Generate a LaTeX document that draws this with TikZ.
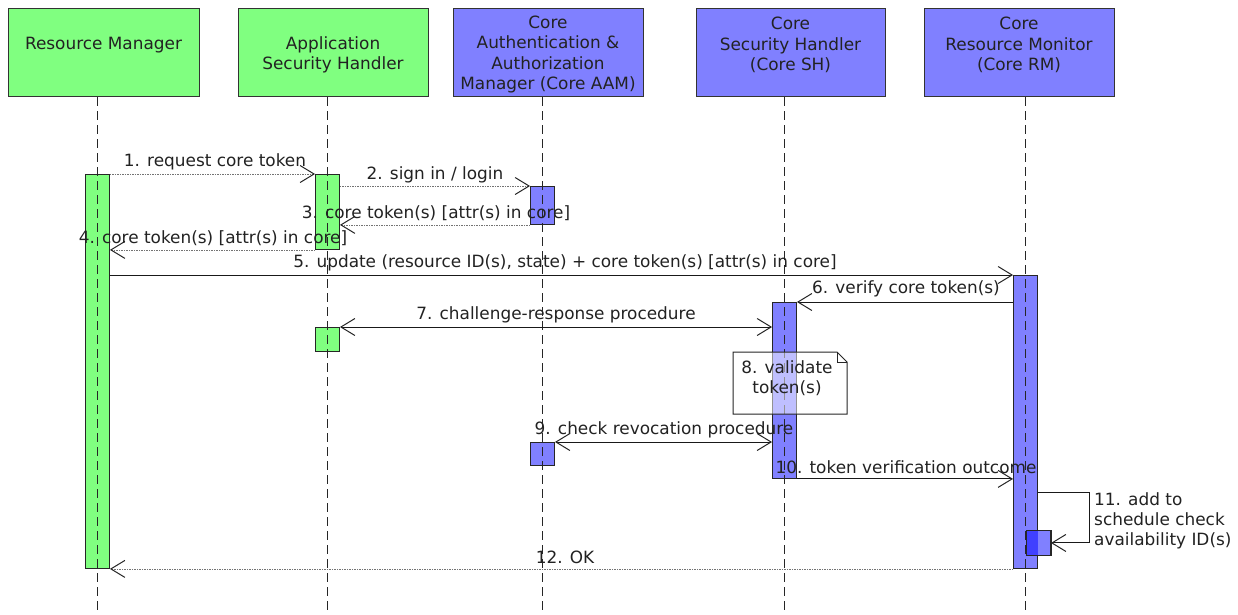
\documentclass[tikz,border=0pt]{standalone}
\usepackage{fontspec}
\setmainfont{DejaVu Sans}
\usetikzlibrary{arrows.meta}
\definecolor{grn}{HTML}{80FF80}
\definecolor{blu}{HTML}{8080FF}
\definecolor{dblu}{HTML}{4040FF}
\definecolor{ink}{HTML}{222222}
\begin{document}
\begin{tikzpicture}[x=1pt,y=-1pt,
  font=\fontsize{16.9}{20.3}\selectfont, text=ink,
  hdr/.style={draw=black!80, line width=1pt, minimum height=88pt, inner sep=0pt, anchor=north},
  htext/.style={align=center, inner sep=0pt},
  bar/.style={draw=black!85, line width=0.9pt, minimum width=24pt, inner sep=0pt, anchor=north},
  life/.style={draw=black!85, line width=1pt, dash pattern=on 9pt off 5pt},
  tip/.style={-{Straight Barb[length=14pt,width=17pt,line width=1pt,color=black!85]}},
  async/.style={tip, draw=black!55, line width=0.7pt, dash pattern=on 1.5pt off 1pt},
  sync/.style={tip, draw=black!90, line width=1pt},
  both/.style={{Straight Barb[length=14pt,width=17pt,line width=1pt,color=black!85]}-{Straight Barb[length=14pt,width=17pt,line width=1pt,color=black!85]}, draw=black!90, line width=1pt},
  lbl/.style={inner sep=0pt}
]
\useasboundingbox (0,0) rectangle (1238,614);
\fill[white] (0,0) rectangle (1238,614);

% headers
\node[hdr, fill=grn, minimum width=191pt] (rmH) at (103.5,8) {};
\node[hdr, fill=grn, minimum width=190pt] (ashH) at (333,8) {};
\node[hdr, fill=blu, minimum width=190pt] (aamH) at (548,8) {};
\node[hdr, fill=blu, minimum width=189pt] (shH) at (790.5,8) {};
\node[hdr, fill=blu, minimum width=190pt] (crmH) at (1019,8) {};
\node[htext] (rmT) at (103.5,45) {Resource Manager};
\node[htext] (ashT) at (333,55) {Application\\Security Handler};
\node[htext] (aamT) at (548,54.5) {Core\\Authentication \&\\Authorization\\Manager (Core AAM)};
\node[htext] (shT) at (790.5,45) {Core\\Security Handler\\(Core SH)};
\node[htext] (crmT) at (1019,45) {Core\\Resource Monitor\\(Core RM)};

% activation bars
\node[bar, fill=grn, minimum height=394pt] (rmA) at (97.5,174) {};
\node[bar, fill=grn, minimum height=75pt] (ashA) at (327.5,174) {};
\node[bar, fill=blu, minimum height=38pt] (aamA) at (542.5,186) {};
\node[bar, fill=grn, minimum height=24pt] (ashB) at (327.5,327) {};
\node[bar, fill=blu, minimum height=176pt] (shA) at (784.5,302) {};
\node[bar, fill=blu, minimum height=23pt] (aamB) at (542.5,442) {};
\node[bar, fill=blu, minimum height=293pt] (crmA) at (1025.5,275) {};
\node[bar, fill=blu, minimum height=25pt] (crmB) at (1038.5,530) {};
\fill[dblu] (crmB.north west) rectangle (crmA.east |- crmB.south);
\draw[black!85, line width=0.9pt] (crmB.north west) rectangle (crmB.south east);

% lifelines
\coordinate (rmE) at (97.5,614);
\coordinate (ashE) at (327.5,614);
\coordinate (aamE) at (542.5,614);
\coordinate (shE) at (784.5,614);
\coordinate (crmE) at (1025.5,614);
\draw[life] (rmH.south -| rmE) -- (rmE);
\draw[life] (ashH.south -| ashE) -- (ashE);
\draw[life] (aamH.south -| aamE) -- (aamE);
\draw[life] (shH.south -| shE) -- (shE);
\draw[life] (crmH.south -| crmE) -- (crmE);

% messages
\draw[async] (rmA.north east) -- (ashA.north west);
\draw[async] (ashA.east |- aamA.north) -- (aamA.north west);
\draw[async] (aamA.south west) -- (ashA.east |- aamA.south);
\draw[async] (ashA.south west) -- (rmA.east |- ashA.south);
\draw[sync] (rmA.east |- crmA.north) -- (crmA.north west);
\draw[sync] (crmA.west |- shA.north) -- (shA.north east);
\draw[both] (ashB.north east) -- (shA.west |- ashB.north);
\draw[both] (aamB.north east) -- (shA.west |- aamB.north);
\draw[sync] (shA.south east) -- (crmA.west |- shA.south);
\coordinate (loop) at (1089,492);
\draw[sync] (crmA.east |- loop) -- (loop) |- (crmB.east);
\draw[async] (crmA.south west) -- (rmA.south east);

% note
\fill[white, fill opacity=0.5] (733,352) -- (837,352) -- (847,362) -- (847,414) -- (733,414) -- cycle;
\draw[black!85, line width=1pt] (733,352) -- (837,352) -- (847,362) -- (847,414) -- (733,414) -- cycle;
\draw[black!85, line width=1pt] (837,352) -- (837,362) -- (847,362);
\node[htext] (note) at (787,378) {8. validate\\token(s)};

% labels
\node[lbl] (l1) at (215,162) {1. request core token};
\node[lbl] (l2) at (435,175) {2. sign in / login};
\node[lbl] (l3) at (436,213) {3. core token(s) [attr(s) in core]};
\node[lbl] (l4) at (213,238) {4. core token(s) [attr(s) in core]};
\node[lbl] (l5) at (565,263) {5. update (resource ID(s), state) + core token(s) [attr(s) in core]};
\node[lbl] (l6) at (906,289) {6. verify core token(s)};
\node[lbl] (l7) at (556,315) {7. challenge-response procedure};
\node[lbl] (l9) at (664,430) {9. check revocation procedure};
\node[lbl] (l10) at (906,467) {10. token verification outcome};
\node[lbl, align=left, anchor=west] (l11) at (1094,521) {11. add to\\schedule check\\availability ID(s)};
\node[lbl] (l12) at (565,557) {12. OK};
\end{tikzpicture}
\end{document}
